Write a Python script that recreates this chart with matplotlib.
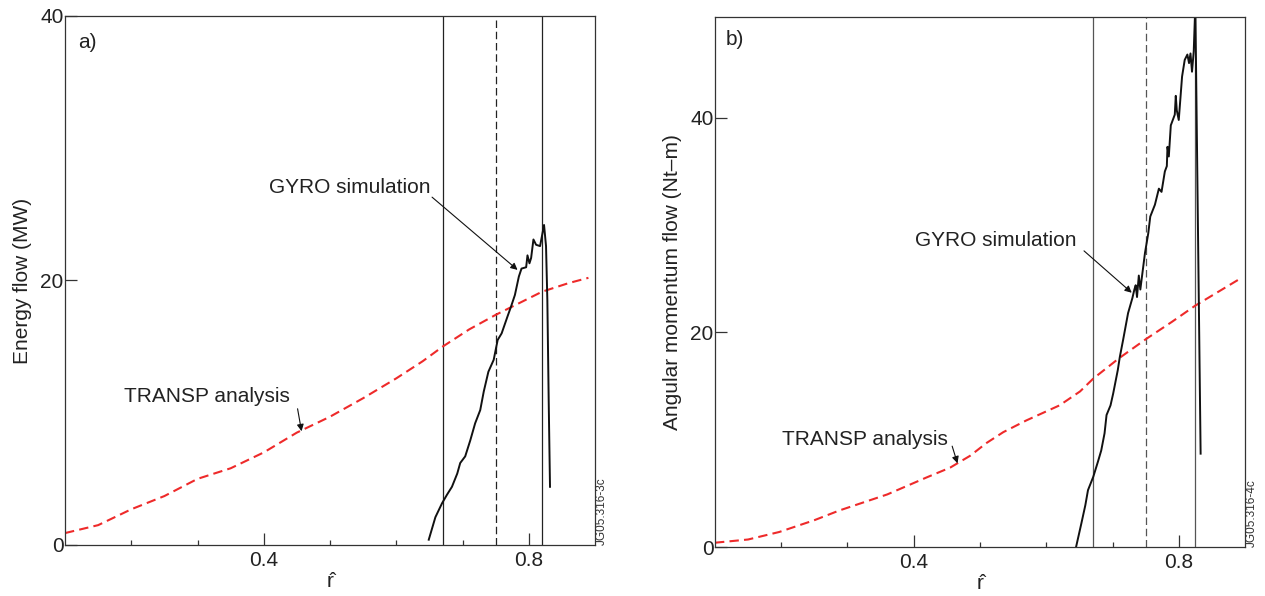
import numpy as np
import matplotlib
matplotlib.use("Agg")
import matplotlib.pyplot as plt
from matplotlib.ticker import FixedLocator

plt.rcParams['font.family'] = ['Liberation Sans', 'DejaVu Sans']

# ---- panel a: energy flow ----
transp_a_r = [0.10, 0.15, 0.20, 0.25, 0.30, 0.35, 0.40, 0.45, 0.50, 0.55,
              0.60, 0.64, 0.67, 0.71, 0.75, 0.79, 0.82, 0.86, 0.89]
transp_a_v = [0.9, 1.5, 2.7, 3.7, 5.0, 5.8, 7.0, 8.5, 9.7, 11.1,
              12.6, 13.9, 15.0, 16.3, 17.4, 18.4, 19.15, 19.8, 20.2]

gyro_a_r = [0.649, 0.659, 0.669, 0.6765, 0.684, 0.692, 0.6965, 0.704, 0.7116,
            0.719, 0.7267, 0.732, 0.739, 0.747, 0.753, 0.759, 0.768, 0.773,
            0.779, 0.785, 0.789, 0.796, 0.798, 0.801, 0.8035, 0.807, 0.811,
            0.817, 0.823, 0.826, 0.828, 0.830, 0.832]
gyro_a_v = [0.4, 2.1, 3.15, 3.8, 4.4, 5.4, 6.2, 6.7, 7.9,
            9.2, 10.2, 11.6, 13.1, 14.0, 15.5, 16.0, 17.3, 18.0,
            18.9, 20.3, 20.9, 21.0, 21.9, 21.3, 21.7, 23.1, 22.7,
            22.6, 24.2, 22.6, 18.5, 11.0, 4.4]

# ---- panel b: angular momentum flow ----
transp_b_r = [0.10, 0.15, 0.197, 0.25, 0.2875, 0.36, 0.42, 0.455, 0.485, 0.51,
              0.535, 0.57, 0.62, 0.651, 0.671, 0.71, 0.751, 0.79, 0.825, 0.86,
              0.895]
transp_b_v = [0.4, 0.7, 1.4, 2.5, 3.4, 4.9, 6.5, 7.4, 8.5, 9.7,
              10.7, 11.8, 13.2, 14.5, 15.7, 17.6, 19.4, 21.0, 22.5, 23.8,
              25.1]

gyro_b_r = [0.645, 0.653, 0.659, 0.663, 0.671, 0.678, 0.683, 0.688, 0.691,
            0.697, 0.701, 0.708, 0.711, 0.716, 0.7235, 0.730, 0.733, 0.735,
            0.737, 0.7397, 0.742, 0.749, 0.754, 0.757, 0.764, 0.770, 0.774,
            0.779, 0.782, 0.783, 0.785, 0.788, 0.794, 0.7955, 0.797, 0.800,
            0.805, 0.809, 0.813, 0.8155, 0.8177, 0.820, 0.8226, 0.825, 0.833]
gyro_b_v = [0.0, 2.2, 3.9, 5.3, 6.55, 7.95, 9.0, 10.6, 12.3,
            13.2, 14.3, 16.5, 17.7, 19.3, 21.8, 23.2, 24.0, 24.4,
            23.3, 25.3, 24.0, 27.4, 29.25, 30.8, 31.9, 33.4, 33.1,
            35.0, 35.5, 37.3, 36.4, 39.3, 40.3, 42.05, 40.7, 39.8,
            43.85, 45.4, 45.9, 45.1, 46.0, 44.3, 46.2, 50.5, 8.7]

# boundaries of the simulation region
bound_a = [0.67, 0.75, 0.82]
bound_b = [0.67, 0.75, 0.825]

red = '#ee2a2a'
fs = 15

fig = plt.figure(figsize=(12.65, 5.96), dpi=100)
ax1 = fig.add_axes([0.0514, 0.0856, 0.419, 0.8876])
ax2 = fig.add_axes([0.5652, 0.0822, 0.419, 0.8893])

arrow_kw = dict(arrowstyle='-|>', color='#111111', lw=0.8,
                mutation_scale=10, shrinkA=0, shrinkB=0)


def style_axes(ax, ylim, yticks):
    ax.set_xlim(0.1, 0.9)
    ax.set_ylim(*ylim)
    ax.xaxis.set_major_locator(FixedLocator([0.4, 0.8]))
    ax.xaxis.set_minor_locator(FixedLocator([0.2, 0.3, 0.5, 0.6, 0.7]))
    ax.yaxis.set_major_locator(FixedLocator(yticks))
    ax.set_xticklabels(['0.4', '0.8'])
    ax.set_yticklabels([str(t) for t in yticks])
    ax.tick_params(which='major', direction='in', length=8.5, width=0.9,
                   color='#333333', labelsize=fs, labelcolor='#222222')
    ax.tick_params(which='minor', direction='in', length=3.8, width=0.9,
                   color='#333333')
    ax.tick_params(axis='x', pad=4)
    ax.tick_params(axis='y', pad=1)
    for s in ax.spines.values():
        s.set_color('#333333')
        s.set_linewidth(0.9)
    ax.set_xlabel('r\u0302', fontsize=fs, labelpad=2, color='#222222')


# panel a
style_axes(ax1, (0, 40), [0, 20, 40])
for i, b in enumerate(bound_a):
    if i == 1:
        ax1.axvline(b, color='#222222', lw=0.9, dashes=(6, 3))
    else:
        ax1.axvline(b, color='#222222', lw=0.9)
ax1.plot(transp_a_r, transp_a_v, color=red, lw=1.5, dashes=(4.5, 2.5))
ax1.plot(gyro_a_r, gyro_a_v, color='#111111', lw=1.4)
ax1.set_ylabel('Energy flow (MW)', fontsize=fs, labelpad=6, color='#222222')
ax1.text(0.024, 0.949, 'a)', transform=ax1.transAxes, fontsize=fs,
         va='center', ha='left', color='#222222')
ax1.text(0.529, 27.05, 'GYRO simulation', fontsize=fs, ha='center',
         va='center', color='#222222')
ax1.annotate('', xy=(0.783, 20.8), xytext=(0.654, 26.3), arrowprops=arrow_kw)
ax1.text(0.314, 11.2, 'TRANSP analysis', fontsize=fs, ha='center',
         va='center', color='#222222')
ax1.annotate('', xy=(0.457, 8.6), xytext=(0.451, 10.3), arrowprops=arrow_kw)
ax1.text(1.012, 0.0, 'JG05.316-3c', transform=ax1.transAxes, rotation=90,
         fontsize=8.5, ha='center', va='bottom', color='#333333')

# panel b
style_axes(ax2, (0, 49.4), [0, 20, 40])
for i, b in enumerate(bound_b):
    if i == 1:
        ax2.axvline(b, color='#555555', lw=0.9, dashes=(6, 3))
    else:
        ax2.axvline(b, color='#555555', lw=0.9)
ax2.plot(transp_b_r, transp_b_v, color=red, lw=1.5, dashes=(4.5, 2.5))
ax2.plot(gyro_b_r, gyro_b_v, color='#111111', lw=1.4)
ax2.set_ylabel('Angular momentum flow (Nt\u2013m)', fontsize=fs, labelpad=6,
               color='#222222')
ax2.text(0.021, 0.958, 'b)', transform=ax2.transAxes, fontsize=fs,
         va='center', ha='left', color='#222222')
ax2.text(0.524, 28.6, 'GYRO simulation', fontsize=fs, ha='center',
         va='center', color='#222222')
ax2.annotate('', xy=(0.729, 23.7), xytext=(0.657, 27.6), arrowprops=arrow_kw)
ax2.text(0.326, 10.0, 'TRANSP analysis', fontsize=fs, ha='center',
         va='center', color='#222222')
ax2.annotate('', xy=(0.466, 7.8), xytext=(0.458, 9.4), arrowprops=arrow_kw)
ax2.text(1.012, 0.0, 'JG05.316-4c', transform=ax2.transAxes, rotation=90,
         fontsize=8.5, ha='center', va='bottom', color='#333333')

fig.savefig('out.png', dpi=100)
